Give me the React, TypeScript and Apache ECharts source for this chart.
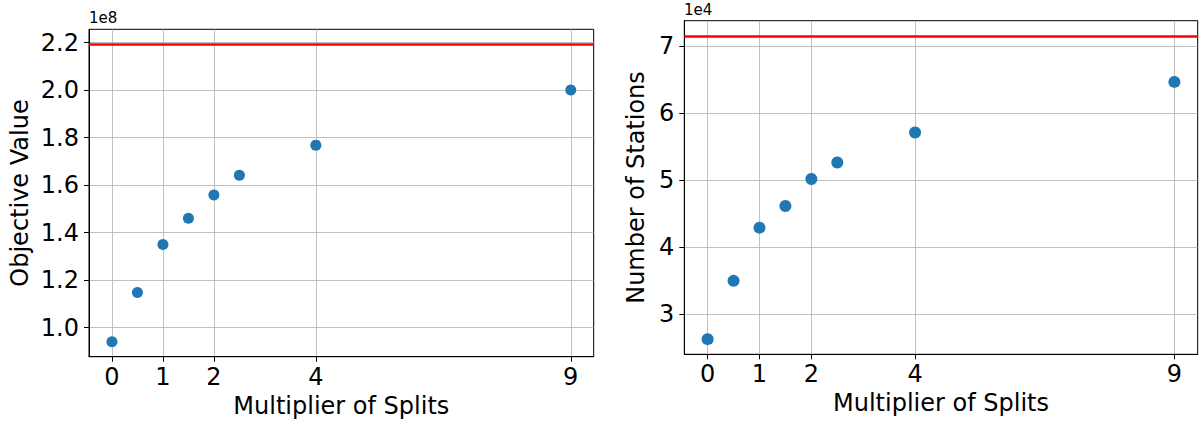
import React, { useEffect, useRef } from "react";
import * as echarts from "echarts";

// Multiplier of splits used in both experiments
const multipliers = [0, 0.5, 1, 1.5, 2, 2.5, 4, 9];
const xTickValues = [0, 1, 2, 4, 9];

// Objective value per multiplier (raw units, shown in 1e8)
const objectiveValues = [0.94e8, 1.148e8, 1.35e8, 1.46e8, 1.558e8, 1.641e8, 1.768e8, 2.0e8];
const objectiveReference = 2.193e8;
const objectiveTicks = [1.0e8, 1.2e8, 1.4e8, 1.6e8, 1.8e8, 2.0e8, 2.2e8];

// Number of stations per multiplier (raw units, shown in 1e4)
const stationCounts = [2.622e4, 3.493e4, 4.288e4, 4.612e4, 5.015e4, 5.263e4, 5.71e4, 6.467e4];
const stationReference = 7.155e4;
const stationTicks = [3e4, 4e4, 5e4, 6e4, 7e4];

const FONT = "DejaVu Sans";
const BLUE = "#1f77b4";
const TICK_FONT = 24;
const LABEL_FONT = 24;

// matplotlib-like 5% autoscale margins
function paddedRange(values: number[], extra: number) {
  const lo = Math.min(...values, extra);
  const hi = Math.max(...values, extra);
  const m = (hi - lo) * 0.05;
  return { min: lo - m, max: hi + m };
}

const xMin = -0.45;
const xMax = 9.45;

function xAxisFor(gridIndex: number, nameGap: number) {
  return {
    type: "value",
    gridIndex,
    min: xMin,
    max: xMax,
    name: "Multiplier of Splits",
    nameLocation: "middle",
    nameGap,
    nameTextStyle: { fontFamily: FONT, fontSize: LABEL_FONT, color: "#000" },
    axisLine: { show: true, onZero: false, lineStyle: { color: "#000", width: 1 } },
    axisTick: { show: true, length: 5, lineStyle: { color: "#000" }, customValues: xTickValues },
    axisLabel: {
      fontFamily: FONT,
      fontSize: TICK_FONT,
      color: "#000",
      margin: 8,
      customValues: xTickValues,
      formatter: (v: number) => String(v),
    },
    splitLine: { show: true, lineStyle: { color: "#b0b0b0", width: 0.8 } },
  };
}

function yAxisFor(
  gridIndex: number,
  range: { min: number; max: number },
  ticks: number[],
  scale: number,
  digits: number,
  name: string,
  nameGap: number
) {
  return {
    type: "value",
    gridIndex,
    min: range.min,
    max: range.max,
    name,
    nameLocation: "middle",
    nameGap,
    nameRotate: 90,
    nameTextStyle: { fontFamily: FONT, fontSize: LABEL_FONT, color: "#000" },
    axisLine: { show: true, onZero: false, lineStyle: { color: "#000", width: 1 } },
    axisTick: { show: true, length: 5, lineStyle: { color: "#000" }, customValues: ticks },
    axisLabel: {
      fontFamily: FONT,
      fontSize: TICK_FONT,
      color: "#000",
      margin: 10,
      customValues: ticks,
      formatter: (v: number) => (v / scale).toFixed(digits),
    },
    splitLine: { show: true, lineStyle: { color: "#b0b0b0", width: 0.8 } },
  };
}

export default function App() {
  const ref = useRef<HTMLDivElement>(null);

  useEffect(() => {
    if (!ref.current) return;
    const chart = echarts.init(ref.current, undefined, { renderer: "svg" });

    const leftRange = paddedRange(objectiveValues, objectiveReference);
    const rightRange = paddedRange(stationCounts, stationReference);

    chart.setOption({
      animation: false,
      backgroundColor: "#fff",
      grid: [
        { left: 89, top: 29.3, width: 504.7, height: 327.4, show: true, borderColor: "#000", borderWidth: 1, backgroundColor: "transparent" },
        { left: 684.3, top: 20.7, width: 513.4, height: 333.6, show: true, borderColor: "#000", borderWidth: 1, backgroundColor: "transparent" },
      ],
      xAxis: [xAxisFor(0, 36), xAxisFor(1, 36)],
      yAxis: [
        yAxisFor(0, leftRange, objectiveTicks, 1e8, 1, "Objective Value", 57),
        yAxisFor(1, rightRange, stationTicks, 1e4, 0, "Number of Stations", 36),
      ],
      graphic: [
        { type: "text", left: 89, top: 10, style: { text: "1e8", fontFamily: FONT, fontSize: 15, fill: "#000" } },
        { type: "text", left: 684, top: 2, style: { text: "1e4", fontFamily: FONT, fontSize: 15, fill: "#000" } },
      ],
      series: [
        {
          type: "scatter",
          xAxisIndex: 0,
          yAxisIndex: 0,
          symbolSize: 11,
          itemStyle: { color: BLUE, opacity: 1 },
          data: multipliers.map((x, i) => [x, objectiveValues[i]]),
          markLine: {
            silent: true,
            symbol: "none",
            label: { show: false },
            lineStyle: { color: "#ff0000", width: 2.7, type: "solid" },
            data: [{ yAxis: objectiveReference }],
          },
          z: 3,
        },
        {
          type: "scatter",
          xAxisIndex: 1,
          yAxisIndex: 1,
          symbolSize: 12,
          itemStyle: { color: BLUE, opacity: 1 },
          data: multipliers.map((x, i) => [x, stationCounts[i]]),
          markLine: {
            silent: true,
            symbol: "none",
            label: { show: false },
            lineStyle: { color: "#ff0000", width: 2.7, type: "solid" },
            data: [{ yAxis: stationReference }],
          },
          z: 3,
        },
      ],
    });

    return () => chart.dispose();
  }, []);

  return (
    <div
      ref={ref}
      style={{ position: "fixed", left: 0, top: 0, width: 1200, height: 423, background: "#fff" }}
    />
  );
}
